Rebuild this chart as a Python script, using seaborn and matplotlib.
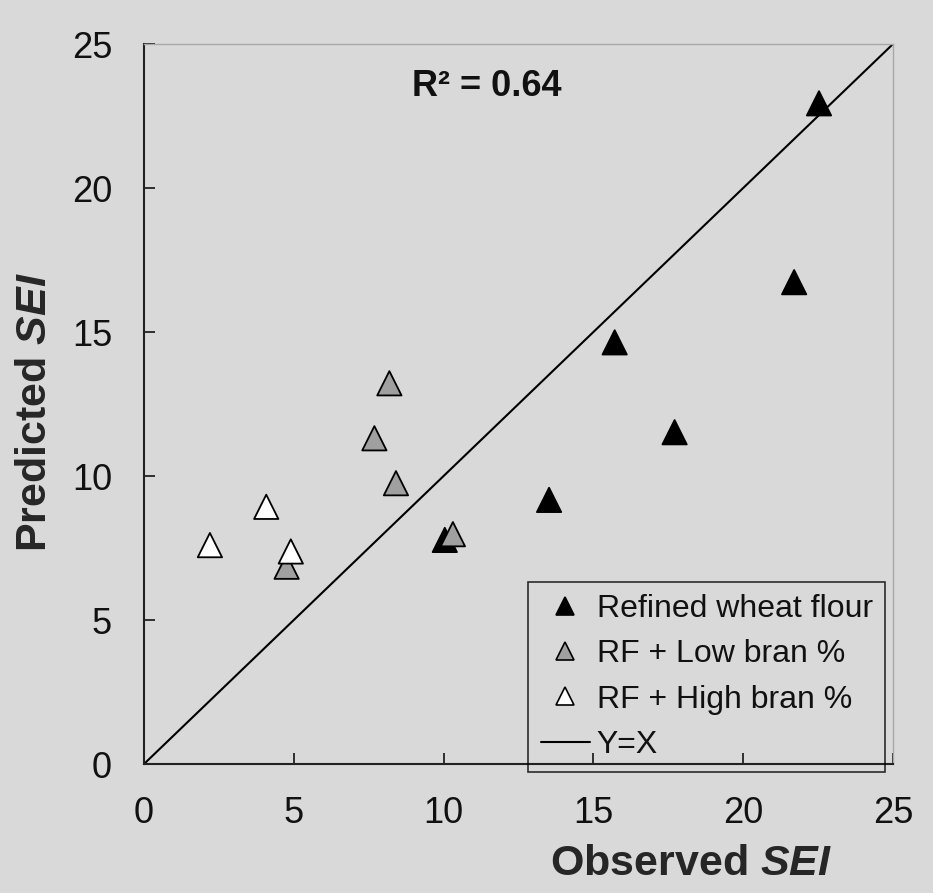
import matplotlib
matplotlib.use("Agg")
import matplotlib.pyplot as plt
from matplotlib.lines import Line2D
import seaborn as sns
import pandas as pd

# ---- data ----
groups = ["Refined wheat flour", "RF + Low bran %", "RF + High bran %"]
refined_x = [10.04, 13.52, 15.71, 17.71, 21.70, 22.53]
refined_y = [7.78, 9.17, 14.64, 11.52, 16.73, 22.94]
lowbran_x = [4.76, 7.69, 8.19, 8.41, 10.31]
lowbran_y = [6.85, 11.31, 13.22, 9.75, 7.98]
highbran_x = [2.20, 4.08, 4.90]
highbran_y = [7.60, 8.93, 7.38]
line_x = [0, 25]
line_y = [0, 25]
ticks = [0, 5, 10, 15, 20, 25]
r2_label = "R² = 0.64"

df = pd.concat([
    pd.DataFrame({"obs": refined_x, "pred": refined_y, "group": groups[0]}),
    pd.DataFrame({"obs": lowbran_x, "pred": lowbran_y, "group": groups[1]}),
    pd.DataFrame({"obs": highbran_x, "pred": highbran_y, "group": groups[2]}),
], ignore_index=True)

palette = {groups[0]: "#000000", groups[1]: "#a0a0a0", groups[2]: "#ffffff"}

sns.set_theme(style="white")
bg = "#d9d9d9"
plt.rcParams["font.family"] = ["Liberation Sans", "DejaVu Sans"]
plt.rcParams["mathtext.fontset"] = "custom"
plt.rcParams["mathtext.rm"] = "Liberation Sans"
plt.rcParams["mathtext.bf"] = "Liberation Sans:bold"
plt.rcParams["mathtext.bfit"] = "Liberation Sans:bold:italic"
plt.rcParams["mathtext.it"] = "Liberation Sans:italic"

fig = plt.figure(figsize=(9.33, 8.93), dpi=100, facecolor=bg)
ax = fig.add_axes([144/933, 1-764/893, (893-144)/933, (764-44)/893])
ax.set_facecolor(bg)

sns.lineplot(x=line_x, y=line_y, color="black", linewidth=1.5, ax=ax, zorder=2)
sns.scatterplot(data=df, x="obs", y="pred", hue="group", palette=palette,
                marker="^", s=17.5**2, edgecolor="black", linewidth=1.3,
                legend=False, ax=ax, zorder=3)

ax.set_xlim(0, 25)
ax.set_ylim(0, 25)
ax.set_xticks(ticks)
ax.set_yticks(ticks)
ax.tick_params(axis="both", direction="in", length=8, width=1.3, color="#222222",
               labelsize=26, labelcolor="#111111", bottom=True, left=True,
               top=False, right=False)
ax.tick_params(axis="x", pad=23)
ax.tick_params(axis="y", pad=23)

for side in ["left", "bottom"]:
    ax.spines[side].set_color("#222222")
    ax.spines[side].set_linewidth(1.5)
for side in ["top", "right"]:
    ax.spines[side].set_color("#a8a8a8")
    ax.spines[side].set_linewidth(1.0)

ax.set_xlabel(r"Observed $\mathbfit{SEI}$", fontsize=31, fontweight="bold", va="center")
ax.xaxis.set_label_coords((691-144)/749, (764-864)/720)
ax.set_ylabel(r"Predicted $\mathbfit{SEI}$", fontsize=31, fontweight="bold", va="center")
ax.yaxis.set_label_coords((35-144)/749, (764-412)/720)

ax.text((487-144)/749, (764-87)/720, r2_label, transform=ax.transAxes,
        fontsize=26, fontweight="bold", ha="center", va="center", color="#111111")

handles = [Line2D([], [], linestyle="none", marker="^", markersize=13.5,
                  markerfacecolor=palette[g], markeredgecolor="black",
                  markeredgewidth=1.2) for g in groups]
handles.append(Line2D([], [], color="black", linewidth=1.5))
labels = groups + ["Y=X"]
leg = ax.legend(handles, labels, loc="lower right",
                bbox_to_anchor=((885-144)/749, (764-772)/720),
                borderaxespad=0, fontsize=23, frameon=True, fancybox=False,
                handlelength=1.56, handletextpad=0.2, labelspacing=0.48,
                borderpad=0.38)
leg.get_frame().set_facecolor("none")
leg.get_frame().set_edgecolor("black")
leg.get_frame().set_linewidth(1.2)
for t in leg.get_texts():
    t.set_color("#111111")

fig.savefig("out.png", dpi=100, facecolor=bg)
